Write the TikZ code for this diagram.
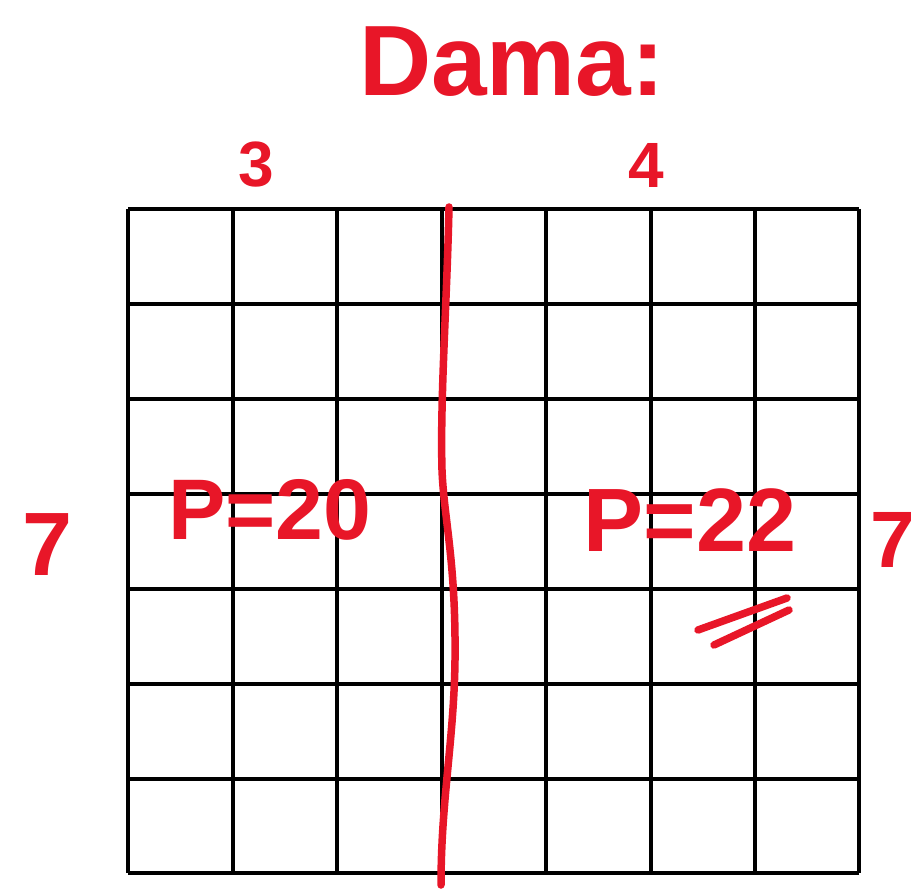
\documentclass[tikz,border=0pt]{standalone}
\usepackage{fontspec}
\setmainfont{Liberation Sans}
\definecolor{pen}{RGB}{232,22,40}
\begin{document}
\begin{tikzpicture}[x=1pt,y=-1pt,
  gridline/.style={line width=3.2pt,black},
  ink/.style={pen,line width=7.5pt,line cap=round,line join=round},
  hand/.style={text=pen,inner sep=0pt,anchor=center}]
\useasboundingbox (0,0) rectangle (918,893);
% grid
\foreach \x in {128,233,337,442,546,651,755,859}
  \draw[gridline] (\x,209) -- (\x,873);
\foreach \y in {209,304,399,494,589,684,779,873}
  \draw[gridline] (128,\y) -- (859,\y);
% divider
\coordinate (dtop) at (449,207);
\coordinate (dbot) at (441,885);
\draw[ink] (dtop) .. controls (447,300) and (440,400) .. (442,470)
  .. controls (444,520) and (456,560) .. (455,660)
  .. controls (454,740) and (441,800) .. (dbot);
% texts
\node[hand,font=\bfseries\fontsize{100}{100}\selectfont] (title) at (512,62) {Dama:};
\node[hand,font=\bfseries\fontsize{64}{64}\selectfont] (n3) at (256,165) {3};
\node[hand,font=\bfseries\fontsize{64}{64}\selectfont] (n4) at (646,165) {4};
\node[hand,font=\bfseries\fontsize{90}{90}\selectfont] (n7l) at (48,545) {7};
\node[hand,font=\bfseries\fontsize{80}{80}\selectfont] (n7r) at (893,540) {7};
\node[hand,font=\bfseries\fontsize{86}{86}\selectfont] (p1) at (270,510) {P=20};
\node[hand,font=\bfseries\fontsize{90}{90}\selectfont] (p2) at (690,520) {P=22};
% double underline
\coordinate (u1a) at (698,630); \coordinate (u1b) at (787,598);
\coordinate (u2a) at (714,645); \coordinate (u2b) at (789,610);
\draw[ink] (u1a) -- (u1b);
\draw[ink] (u2a) -- (u2b);
\end{tikzpicture}
\end{document}
